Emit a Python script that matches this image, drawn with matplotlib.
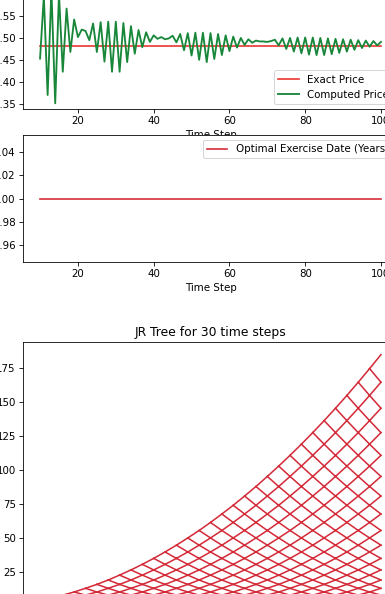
import matplotlib.pyplot as plt

# binomial (JR) price against number of time steps
steps = list(range(10, 101))
exact_price = 4.482
computed_price = [
    4.453, 4.595, 4.370, 4.610, 4.351, 4.600, 4.423, 4.567, 4.468, 4.542,  # 10-19
    4.502, 4.519, 4.516, 4.495, 4.533, 4.468, 4.536, 4.446, 4.537, 4.423,  # 20-29
    4.537, 4.423, 4.534, 4.445, 4.527, 4.464, 4.518, 4.479, 4.513, 4.491,  # 30-39
    4.506, 4.498, 4.502, 4.497, 4.499, 4.505, 4.490, 4.509, 4.472, 4.511,  # 40-49
    4.460, 4.512, 4.450, 4.512, 4.445, 4.511, 4.452, 4.509, 4.461, 4.506,  # 50-59
    4.470, 4.503, 4.478, 4.500, 4.484, 4.497, 4.489, 4.494, 4.492, 4.492,  # 60-69
    4.491, 4.493, 4.496, 4.483, 4.499, 4.475, 4.500, 4.469, 4.501, 4.465,  # 70-79
    4.501, 4.462, 4.501, 4.461, 4.500, 4.461, 4.499, 4.463, 4.498, 4.466,  # 80-89
    4.497, 4.469, 4.496, 4.473, 4.495, 4.477, 4.494, 4.480, 4.493, 4.483,  # 90-99
    4.491,                                                                 # 100
]
exercise_date = [1.0 for _ in steps]

# JR tree: value of a node on level m = (#up - #down), m = -30 .. 30
tree_steps = 30
tree_levels = [0.0] * 25 + [
    0.0, 0.3, 0.9, 1.8, 3.0,                                    # -5 .. -1
    4.5, 6.2, 8.3, 10.6, 13.3, 16.2, 19.4, 23.0, 26.8, 30.9,    # 0 .. 9
    35.3, 40.0, 45.0, 50.3, 55.8, 61.7, 67.9, 74.3, 81.1, 88.1,  # 10 .. 19
    95.5, 103.1, 111.0, 119.2, 127.7, 136.5, 145.6, 155.0, 164.7, 174.7,  # 20 .. 29
    185.0,                                                      # 30
]

fig = plt.figure(figsize=(386 / 74, 594 / 74), dpi=74)

# the picture is a crop of a bigger figure, so the axes run past the edges
ax1 = fig.add_axes([0.0596, 0.8165, 0.9715, 0.2104])
ax1.plot(steps, [exact_price] * len(steps), color='#e8322e', lw=1.6, label='Exact Price')
ax1.plot(steps, computed_price, color='#18873a', lw=1.8, label='Computed Price')
ax1.set_xlabel('Time Step')
ax1.legend(loc='lower right')

ax2 = fig.add_axes([0.0596, 0.5589, 0.9715, 0.2138])
ax2.plot(steps, exercise_date, color='#d42a38', lw=1.6, label='Optimal Exercise Date (Years)')
ax2.set_xlabel('Time Step')
ax2.legend(loc='upper right')

ax3 = fig.add_axes([0.0596, -0.0421, 0.9715, 0.4663])
for i in range(tree_steps):
    for k in range(i + 1):
        m = i - 2 * k
        ax3.plot([i, i + 1], [tree_levels[m + 30], tree_levels[m + 31]], color='#d42a38', lw=1.5)
        ax3.plot([i, i + 1], [tree_levels[m + 30], tree_levels[m + 29]], color='#d42a38', lw=1.5)
ax3.set_title('JR Tree for 30 time steps')

plt.savefig('out.png', dpi=74)
